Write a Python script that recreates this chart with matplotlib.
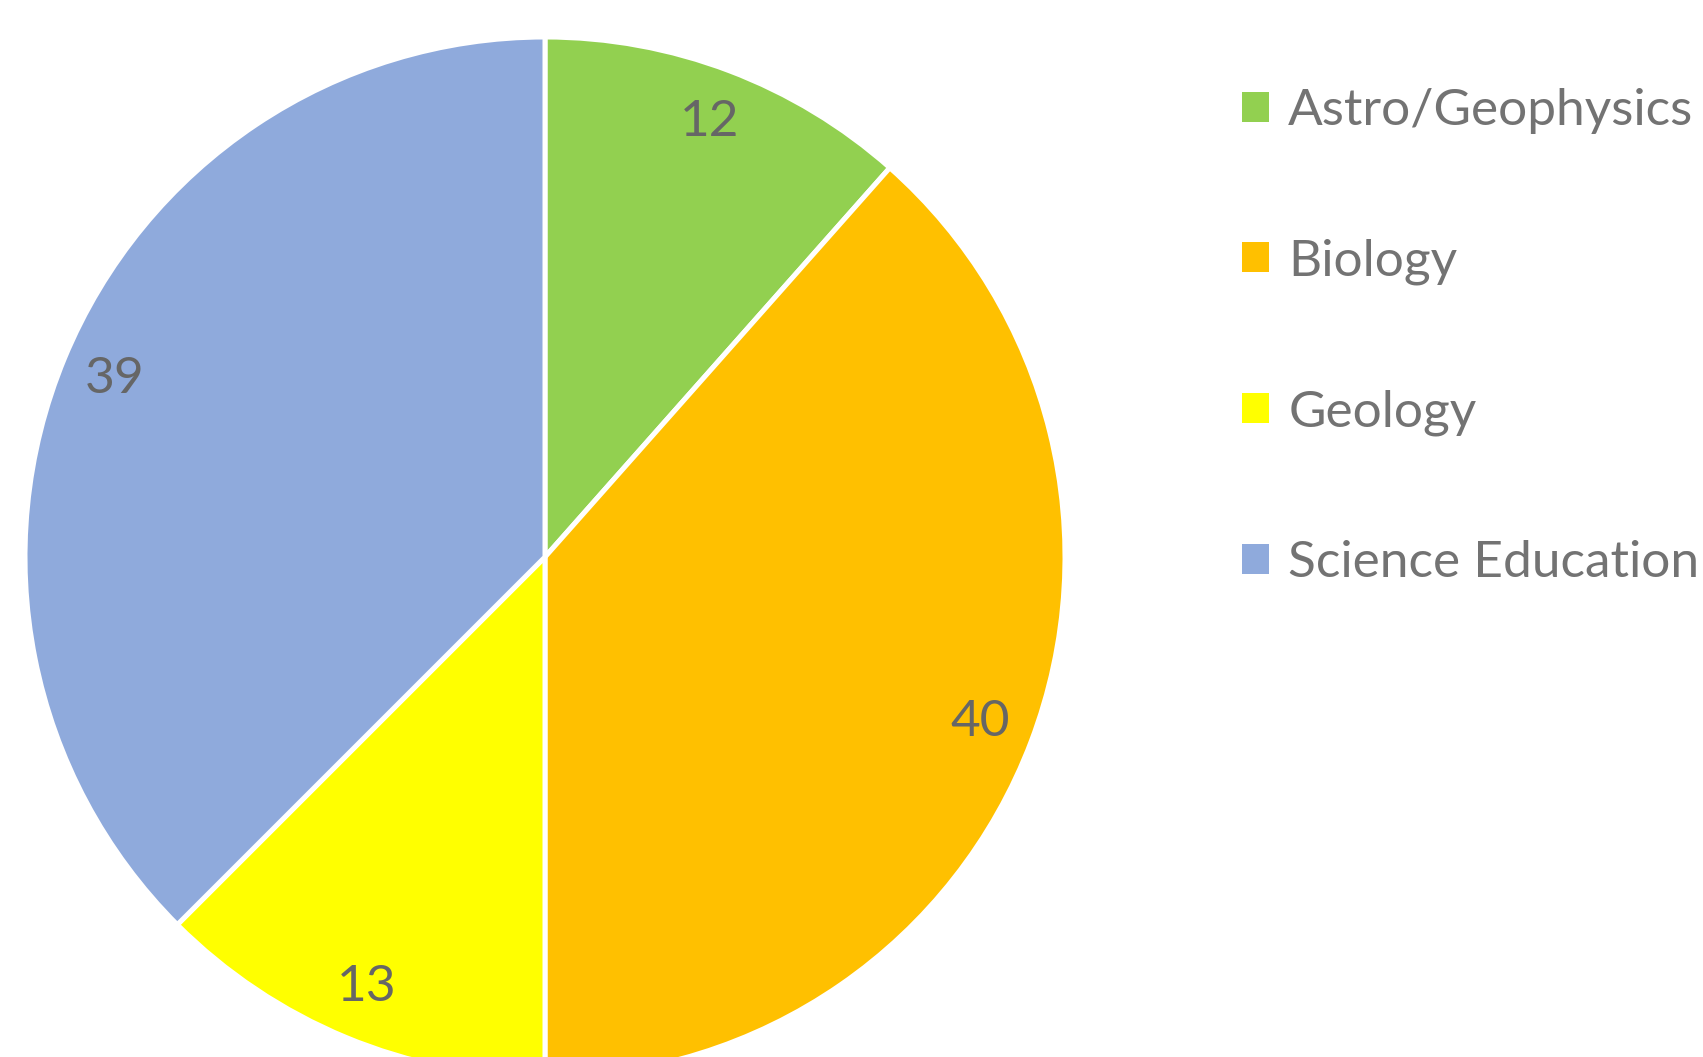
import matplotlib
matplotlib.use('Agg')
import matplotlib.pyplot as plt
from matplotlib.patches import Patch

labels = ['Astro/Geophysics', 'Biology', 'Geology', 'Science Education']
values = [12, 40, 13, 39]
colors = ['#92D050', '#FFC000', '#FFFF00', '#8FAADC']

plt.rcParams['font.family'] = ['Lato', 'DejaVu Sans']

W, H = 1703, 1057
fig = plt.figure(figsize=(W / 100, H / 100), dpi=100)

# pie centre and radius in pixels
cx, cy, r = 545, 557, 520
ax = fig.add_axes([(cx - r) / W, (H - cy - r) / H, 2 * r / W, 2 * r / H])
ax.axis('off')

wedges, texts = ax.pie(
    values, colors=colors, startangle=90, counterclock=False, radius=1,
    labels=[str(v) for v in values], labeldistance=0.895,
    wedgeprops=dict(edgecolor='white', linewidth=3.6),
    textprops=dict(fontsize=37, color='#666666'))
for t in texts:
    t.set_horizontalalignment('center')
    t.set_verticalalignment('center')
ax.set_xlim(-1, 1)
ax.set_ylim(-1, 1)

handles = [Patch(facecolor=c, edgecolor='none') for c in colors]
fig.legend(handles, labels, loc='upper left',
           bbox_to_anchor=(1242 / W, 1 - 88 / H), frameon=False,
           fontsize=37, labelcolor='#737373', labelspacing=2.03,
           handlelength=0.52, handleheight=0.52, handletextpad=0.38,
           borderpad=0, borderaxespad=0)

fig.savefig('out.png', dpi=100)
